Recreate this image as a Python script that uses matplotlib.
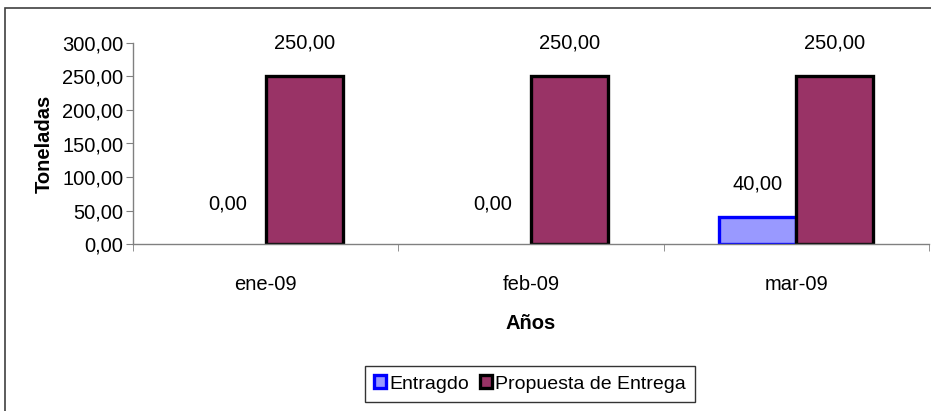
import numpy as np
import matplotlib.pyplot as plt
from matplotlib.patches import Rectangle, Patch

plt.rcParams['font.family'] = ['Liberation Sans', 'DejaVu Sans']
FS = 14.5

# data
meses = ['ene-09', 'feb-09', 'mar-09']
entragdo = [0, 0, 40]
propuesta = [250, 250, 250]
yticks = [0, 50, 100, 150, 200, 250, 300]

def fmt(v):
    return f'{v:,.2f}'.replace(',', 'X').replace('.', ',').replace('X', '.')

fig = plt.figure(figsize=(9.31, 4.11), dpi=100)
ax = fig.add_axes([133 / 931, 1 - 244 / 411, 796 / 931, 201 / 411])

# outer chart frame
fig.patches.append(Rectangle((5 / 931, -0.1), 1.1, (411 - 8) / 411 + 0.1,
                             transform=fig.transFigure, fill=False,
                             edgecolor='#404040', linewidth=1.2))

x = np.arange(len(meses))
w = 0.29
b1 = ax.bar(x - w / 2, entragdo, w, color='#9999FF', edgecolor='#0000FF',
            linewidth=2.4)
b2 = ax.bar(x + w / 2, propuesta, w, color='#993366', edgecolor='black',
            linewidth=2.4)

for bars, vals in ((b1, entragdo), (b2, propuesta)):
    for r, v in zip(bars, vals):
        if v == 0:
            r.set_linewidth(0)
        off = 29 if v == 0 else 24
        ax.annotate(fmt(v), (r.get_x() + r.get_width() / 2, v),
                    xytext=(0, off), textcoords='offset points',
                    ha='center', va='center', fontsize=FS)

ax.set_xlim(-0.5, 2.5)
ax.set_ylim(0, 300)
ax.set_yticks(yticks)
ax.set_yticklabels([fmt(v) for v in yticks], fontsize=FS)
ax.set_xticks(x)
ax.set_xticklabels(meses, fontsize=FS)
ax.tick_params(axis='x', length=0, pad=22)
ax.set_xticks([-0.5, 0.5, 1.5, 2.5], minor=True)
ax.tick_params(axis='x', which='minor', length=5, color='#808080')
ax.tick_params(axis='y', length=5, color='#808080', pad=2)

for s in ('top', 'right'):
    ax.spines[s].set_visible(False)
for s in ('left', 'bottom'):
    ax.spines[s].set_color('#808080')
    ax.spines[s].set_linewidth(1)

ax.set_ylabel('Toneladas', fontsize=FS, fontweight='bold', labelpad=6)
ax.set_xlabel('Años', fontsize=FS, fontweight='bold', labelpad=15)

handles = [Patch(facecolor='#9999FF', edgecolor='#0000FF', linewidth=2.4),
           Patch(facecolor='#993366', edgecolor='black', linewidth=2.4)]
leg = fig.legend(handles, ['Entragdo', 'Propuesta de Entrega'],
                 loc='center', bbox_to_anchor=(530 / 931, 1 - 384 / 411),
                 ncol=2, fontsize=14, frameon=True, fancybox=False,
                 handlelength=0.6, handleheight=0.6, handletextpad=0.15,
                 columnspacing=0.6, borderpad=0.5)
leg.get_frame().set_edgecolor('black')
leg.get_frame().set_linewidth(1)

fig.savefig('out.png', dpi=100)
